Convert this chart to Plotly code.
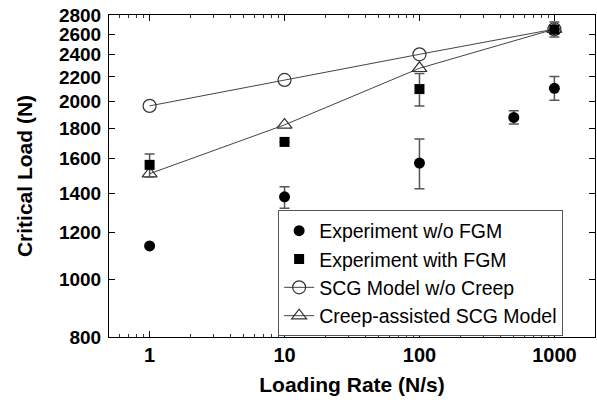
import plotly.graph_objects as go

# Data
rates_exp = [1, 10, 100, 500, 1000]
load_wo_fgm = [1140, 1380, 1574, 1880, 2105]
err_wo_fgm_plus = [0, 55, 155, 50, 100]
err_wo_fgm_minus = [0, 60, 150, 48, 95]

rates_fgm = [1, 10, 100, 1000]
load_fgm = [1563, 1709, 2099, 2645]
err_fgm_plus = [68, 0, 130, 80]
err_fgm_minus = [72, 0, 133, 75]

rates_model = [1, 10, 100, 1000]
scg_no_creep = [1966, 2175, 2403, 2650]
scg_creep = [1510, 1826, 2276, 2650]

x_tickvals = [1, 10, 100, 1000]
x_ticktext = ["1", "10", "100", "1000"]
x_minor = [0.6, 0.7, 0.8, 0.9, 2, 3, 4, 5, 6, 7, 8, 9, 20, 30, 40, 50, 60, 70, 80, 90,
           200, 300, 400, 500, 600, 700, 800, 900]
y_tickvals = [800, 1000, 1200, 1400, 1600, 1800, 2000, 2200, 2400, 2600, 2800]
y_ticktext = [str(v) for v in y_tickvals]

FONT = "Liberation Sans, Arial, Helvetica, sans-serif"
LINE = "#444444"

fig = go.Figure()

fig.add_trace(go.Scatter(
    x=rates_model, y=scg_no_creep, mode="lines+markers",
    name="SCG Model w/o Creep", legendrank=3,
    line=dict(color=LINE, width=1),
    marker=dict(symbol="circle-open", size=13, color="#333333", line=dict(width=1.2)),
))
fig.add_trace(go.Scatter(
    x=rates_model, y=scg_creep, mode="lines+markers",
    name="Creep-assisted SCG Model", legendrank=4,
    line=dict(color=LINE, width=1),
    marker=dict(symbol="triangle-up-open", size=13, color="#333333", line=dict(width=1.2)),
))
fig.add_trace(go.Scatter(
    x=rates_exp, y=load_wo_fgm, mode="markers",
    name="Experiment w/o FGM", legendrank=1,
    marker=dict(symbol="circle", size=11, color="black"),
    error_y=dict(type="data", symmetric=False, array=err_wo_fgm_plus,
                 arrayminus=err_wo_fgm_minus, color="#555555", thickness=1.5, width=5),
))
fig.add_trace(go.Scatter(
    x=rates_fgm, y=load_fgm, mode="markers",
    name="Experiment with FGM", legendrank=2,
    marker=dict(symbol="square", size=10, color="black"),
    error_y=dict(type="data", symmetric=False, array=err_fgm_plus,
                 arrayminus=err_fgm_minus, color="#555555", thickness=1.5, width=5),
))

fig.update_layout(
    width=597, height=403,
    margin=dict(l=109, r=2, t=15, b=66),
    paper_bgcolor="white", plot_bgcolor="white",
    font=dict(family=FONT, color="black"),
    showlegend=True,
    legend=dict(
        x=0.348, y=0.393, xanchor="left", yanchor="top",
        bgcolor="white", bordercolor="#555555", borderwidth=1,
        font=dict(family=FONT, size=19.5, color="black"),
        traceorder="normal",
    ),
    xaxis=dict(
        type="log", range=[-0.301, 3.301],
        tickvals=x_tickvals, ticktext=x_ticktext,
        ticks="inside", ticklen=6, tickcolor="black",
        minor=dict(tickvals=x_minor, ticks="inside", ticklen=3, tickcolor="#333333", showgrid=False),
        showline=True, linecolor="black", linewidth=1, mirror="ticks",
        showgrid=False, zeroline=False,
        tickfont=dict(family=FONT, size=20, weight="bold"),
        title=dict(text="Loading Rate (N/s)", font=dict(family=FONT, size=21, weight="bold"), standoff=12),
    ),
    yaxis=dict(
        type="log", range=[2.90309, 3.447158],
        tickvals=y_tickvals, ticktext=y_ticktext,
        ticks="inside", ticklen=6, tickcolor="black",
        ticklabelstandoff=3,
        showline=True, linecolor="black", linewidth=1, mirror="ticks",
        showgrid=False, zeroline=False,
        tickfont=dict(family=FONT, size=19, weight="bold"),
        title=dict(text="Critical Load (N)", font=dict(family=FONT, size=21, weight="bold"), standoff=20),
    ),
)

fig.write_html("out.html")
